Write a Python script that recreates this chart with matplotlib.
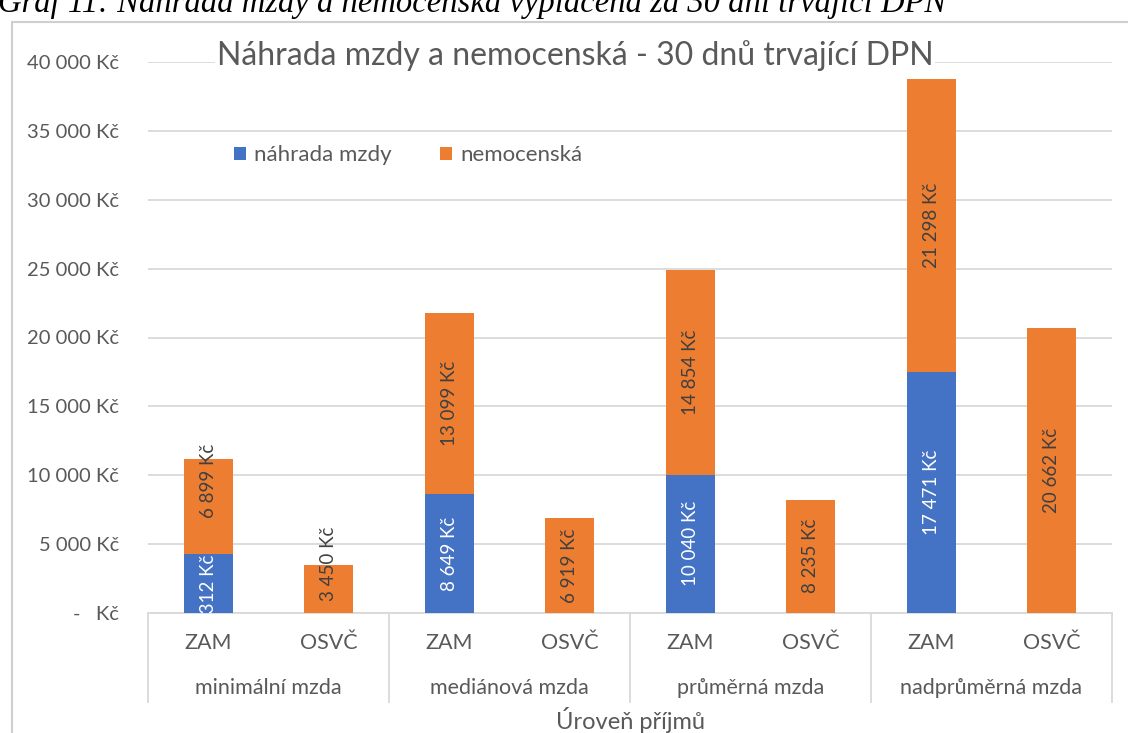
import matplotlib.pyplot as plt
import matplotlib.transforms as mtransforms
from matplotlib.patches import Rectangle
import numpy as np

plt.rcParams['font.family'] = ['Lato', 'DejaVu Sans']

# data
groups = ['minimální mzda', 'mediánová mzda', 'průměrná mzda', 'nadprůměrná mzda']
kinds = ['ZAM', 'OSVČ']
nahrada = [4312, 0, 8649, 0, 10040, 0, 17471, 0]
nemocenska = [6899, 3450, 13099, 6919, 14854, 8235, 21298, 20662]
yticks = [0, 5000, 10000, 15000, 20000, 25000, 30000, 35000, 40000]

BLUE = '#4472C4'
ORANGE = '#ED7D31'
GREY = '#595959'
LINE = '#d9d9d9'


def kc(v):
    if v == 0:
        return '-   Kč'
    return f'{v:,}'.replace(',', ' ') + ' Kč'


fig = plt.figure(figsize=(11.28, 7.33), dpi=100)
ax = fig.add_axes([148 / 1128, 1 - 613 / 733, 964 / 1128, 551 / 733])

x = np.arange(len(nemocenska))
w = 0.41
ax.bar(x, nahrada, w, color=BLUE, label='náhrada mzdy', zorder=3)
ax.bar(x, nemocenska, w, bottom=nahrada, color=ORANGE, label='nemocenská', zorder=3)

# data labels; short segments get nudged like Excel does to avoid overlap
for i in x:
    small = nemocenska[i] < 6900 or (0 < nahrada[i] < 6900)
    if nahrada[i]:
        ax.annotate(kc(nahrada[i]), (i, nahrada[i] / 2), xytext=(0, -6 if small else 0),
                    textcoords='offset points', rotation=90, ha='center', va='center',
                    color='white', fontsize=13.5, zorder=4)
    ax.annotate(kc(nemocenska[i]), (i, nahrada[i] + nemocenska[i] / 2),
                xytext=(0, 18 if small else 0), textcoords='offset points', rotation=90,
                ha='center', va='center', color='#404040', fontsize=13.5, zorder=4)

ax.set_xlim(-0.5, len(x) - 0.5)
ax.set_ylim(0, 40000)
ax.set_yticks(yticks)
ax.set_yticklabels([kc(v) for v in yticks])
ax.tick_params(axis='y', length=0, pad=21, labelsize=14.5, labelcolor=GREY)
ax.set_xticks([])
ax.grid(axis='y', color=LINE, linewidth=1.3, zorder=0)
for s in ax.spines.values():
    s.set_visible(False)

# two-level category axis
trans = mtransforms.blended_transform_factory(ax.transData, ax.transAxes)
ax.plot([-0.5, len(x) - 0.5], [0, 0], transform=trans, color=LINE, lw=1.3, clip_on=False, zorder=2)
for b in np.arange(-0.5, len(x), 2):
    ax.plot([b, b], [0, -0.162], transform=trans, color=LINE, lw=1.3, clip_on=False)
for i in x:
    ax.text(i, -0.055, kinds[i % 2], transform=trans, ha='center', va='center',
            fontsize=15.5, color=GREY)
for g, name in enumerate(groups):
    ax.text(2 * g + 0.5, -0.137, name, transform=trans, ha='center', va='center',
            fontsize=15.5, color=GREY)
ax.text(0.5, -0.195, 'Úroveň příjmů', transform=ax.transAxes, ha='center', va='center',
        fontsize=17, color=GREY)

fig.text(575 / 1128, 1 - 56 / 733, 'Náhrada mzdy a nemocenská - 30 dnů trvající DPN',
         fontsize=23, color=GREY, ha='center', va='center', zorder=5,
         bbox=dict(facecolor='white', edgecolor='none', pad=1))

ax.legend(loc='center left', bbox_to_anchor=(0.068, 0.831), ncol=2, frameon=False,
          fontsize=16, labelcolor=GREY, handlelength=0.55, handleheight=0.55,
          handletextpad=0.35, columnspacing=2.2)

# chart frame and cropped caption
fig.patches.append(Rectangle((12 / 1128, -0.05), 1.2, 1 - 22 / 733 + 0.05,
                             transform=fig.transFigure, fill=False, edgecolor='#cfcfcf', lw=1.5))
fig.text(-0.002, 1 - 12 / 733, 'Graf 11: Náhrada mzdy a nemocenská vyplacená za 30 dní trvající DPN',
         family='Liberation Serif', style='italic', fontsize=23.5, va='baseline', ha='left')

fig.savefig('out.png', dpi=100)
